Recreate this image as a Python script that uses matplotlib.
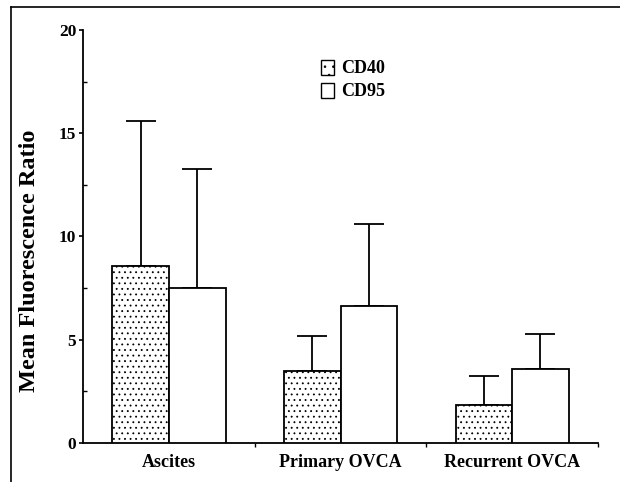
import matplotlib
matplotlib.use("Agg")
import matplotlib.pyplot as plt
import numpy as np
from matplotlib.patches import Patch
from matplotlib.lines import Line2D

categories = ["Ascites", "Primary OVCA", "Recurrent OVCA"]
cd40_mean = [8.57, 3.47, 1.86]
cd40_upper = [15.6, 5.18, 3.22]
cd95_mean = [7.52, 6.61, 3.57]
cd95_upper = [13.27, 10.6, 5.27]
yticks = [0, 5, 10, 15, 20]

plt.rcParams['font.family'] = ['Liberation Serif', 'DejaVu Serif']
plt.rcParams['font.weight'] = 'bold'
plt.rcParams['hatch.linewidth'] = 0.6

fig = plt.figure(figsize=(6.2, 4.82), dpi=100)
ax = fig.add_axes([0.134, 0.081, 0.9645 - 0.134, 0.938 - 0.081])

x = np.arange(len(categories))
w = 0.33
cd40_err = np.array(cd40_upper) - np.array(cd40_mean)
cd95_err = np.array(cd95_upper) - np.array(cd95_mean)

ax.bar(x - w / 2, cd40_mean, w, facecolor='white', edgecolor='black', linewidth=1.3,
       hatch='...', zorder=3)
ax.bar(x + w / 2, cd95_mean, w, facecolor='white', edgecolor='black', linewidth=1.3,
       zorder=3)
ax.errorbar(x - w / 2, cd40_mean, yerr=[np.zeros(3), cd40_err], fmt='none', ecolor='black',
            elinewidth=1.3, capsize=11, capthick=1.3, zorder=2)
ax.errorbar(x + w / 2, cd95_mean, yerr=[np.zeros(3), cd95_err], fmt='none', ecolor='black',
            elinewidth=1.3, capsize=11, capthick=1.3, zorder=2)

ax.set_xlim(-0.5, 2.5)
ax.set_ylim(0, 20)
ax.spines['top'].set_visible(False)
ax.spines['right'].set_visible(False)
ax.spines['left'].set_linewidth(1.3)
ax.spines['bottom'].set_linewidth(1.3)

ax.set_yticks(yticks)
ax.set_yticklabels([str(t) for t in yticks], fontsize=12.5, fontweight='bold')
ax.set_yticks([2.5, 7.5, 12.5, 17.5], minor=True)
ax.tick_params(axis='y', which='major', direction='out', length=3, width=1.2, pad=2)
ax.tick_params(axis='y', which='minor', direction='in', length=3, width=1.0)

ax.set_xticks([0.5, 1.5, 2.5])
ax.set_xticklabels([])
ax.tick_params(axis='x', which='major', direction='out', length=3, width=1.0)
ax.set_xticks(x, minor=True)
ax.set_xticklabels(categories, minor=True, fontsize=13, fontweight='bold')
ax.tick_params(axis='x', which='minor', length=0, pad=8)

ax.set_ylabel("Mean Fluorescence Ratio", fontsize=17.5, fontweight='bold')
ax.yaxis.set_label_coords(-0.083, 0.44)

handles = [Patch(facecolor='white', edgecolor='black', hatch='..', linewidth=1.0, label='CD40'),
           Patch(facecolor='white', edgecolor='black', linewidth=1.0, label='CD95')]
ax.legend(handles=handles, loc='upper left', bbox_to_anchor=(0.444, 0.95), frameon=False,
          handlelength=0.75, handleheight=0.9, handletextpad=0.4, labelspacing=0.3,
          borderpad=0, prop={'size': 13, 'weight': 'bold'})

# figure border (left and top)
fig.add_artist(Line2D([11 / 620, 11 / 620], [0, 1 - 7 / 482], transform=fig.transFigure,
                      color='black', linewidth=1.2))
fig.add_artist(Line2D([11 / 620, 1], [1 - 7 / 482, 1 - 7 / 482], transform=fig.transFigure,
                      color='black', linewidth=1.2))

fig.savefig("out.png", dpi=100)
